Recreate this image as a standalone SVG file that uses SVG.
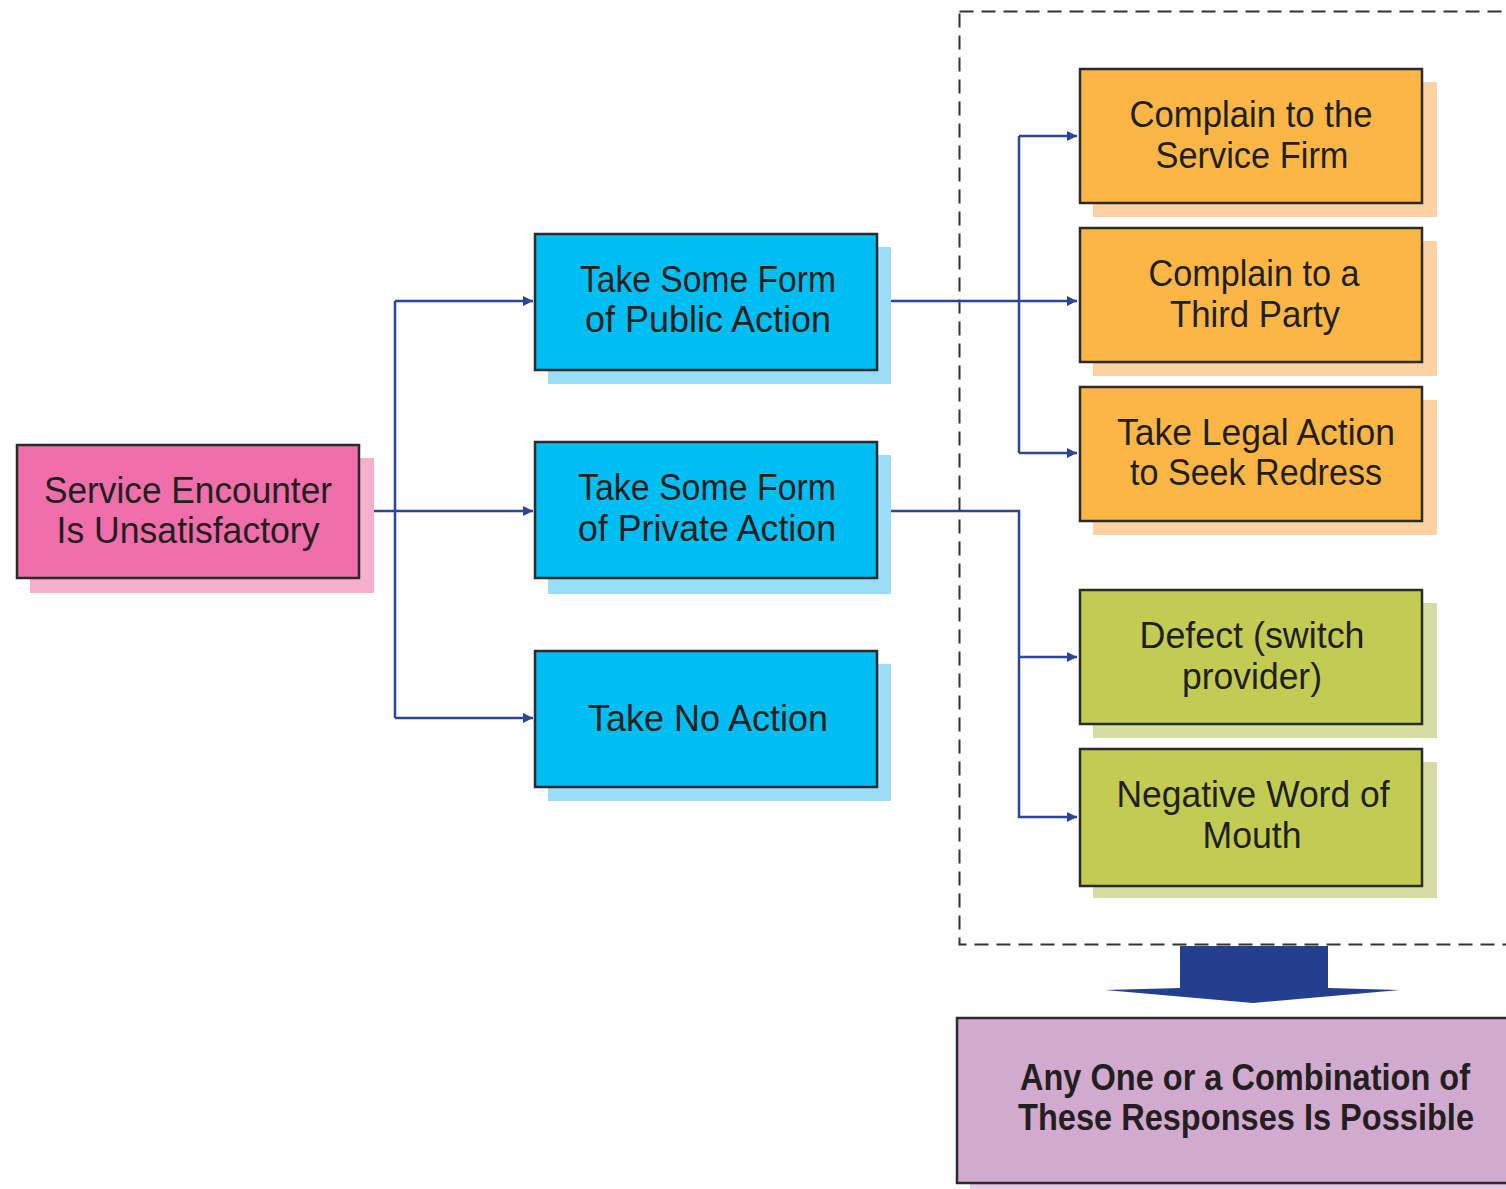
<svg xmlns="http://www.w3.org/2000/svg" width="1506" height="1189" viewBox="0 0 1506 1189">
<defs>
<style>
text{font-family:"Liberation Sans",Arial,sans-serif;font-size:36px;fill:#231f20;text-anchor:middle}
.b{stroke:#2b2b2b;stroke-width:2.5}
.pink{fill:#f06ea9}.pinks{fill:#f7afcc}
.blue{fill:#00bdf2}.blues{fill:#9bdcf8}
.or{fill:#fbb646}.ors{fill:#fdd1a2}
.gr{fill:#c2cb52}.grs{fill:#d6dca3}
.pu{fill:#d3aacf}.pus{fill:#e3c9e1}
.c{fill:none;stroke:#2e4495;stroke-width:2.5}
.bold{font-weight:bold}
</style>
<marker id="ah" viewBox="0 0 10 10" refX="10" refY="5" markerWidth="4" markerHeight="4" orient="auto" markerUnits="strokeWidth">
<path d="M0,0 L10,5 L0,10 z" fill="#2e4495"/>
</marker>
</defs>
<rect width="1506" height="1189" fill="#ffffff"/>

<g id="group-box">
<rect x="959.5" y="11.5" width="560" height="933" fill="none" stroke="#333" stroke-width="2" stroke-dasharray="14 8"/>
</g>

<g id="connectors">
<path class="c" d="M372,511 H533" marker-end="url(#ah)"/>
<path class="c" d="M395,301 V718"/>
<path class="c" d="M395,301 H533" marker-end="url(#ah)"/>
<path class="c" d="M395,718 H533" marker-end="url(#ah)"/>
<path class="c" d="M890,301 H1077" marker-end="url(#ah)"/>
<path class="c" d="M1019,136 V453"/>
<path class="c" d="M1019,136 H1077" marker-end="url(#ah)"/>
<path class="c" d="M1019,453 H1077" marker-end="url(#ah)"/>
<path class="c" d="M890,511 H1019 V817 H1077" marker-end="url(#ah)"/>
<path class="c" d="M1019,657 H1077" marker-end="url(#ah)"/>
</g>

<g id="n-service">
<rect class="pinks" x="30" y="458" width="344" height="135"/>
<rect class="pink b" x="17" y="445" width="342" height="133"/>
<text x="188" y="503" textLength="288" lengthAdjust="spacingAndGlyphs">Service Encounter</text>
<text x="188" y="543" textLength="263" lengthAdjust="spacingAndGlyphs">Is Unsatisfactory</text>
</g>

<g id="n-public">
<rect class="blues" x="548" y="247" width="343" height="137"/>
<rect class="blue b" x="535" y="234" width="342" height="136"/>
<text x="708" y="292" textLength="256" lengthAdjust="spacingAndGlyphs">Take Some Form</text>
<text x="708" y="332" textLength="246" lengthAdjust="spacingAndGlyphs">of Public Action</text>
</g>

<g id="n-private">
<rect class="blues" x="548" y="455" width="343" height="139"/>
<rect class="blue b" x="535" y="442" width="342" height="136"/>
<text x="707" y="500" textLength="258" lengthAdjust="spacingAndGlyphs">Take Some Form</text>
<text x="707" y="541" textLength="258" lengthAdjust="spacingAndGlyphs">of Private Action</text>
</g>

<g id="n-noaction">
<rect class="blues" x="548" y="664" width="343" height="137"/>
<rect class="blue b" x="535" y="651" width="342" height="136"/>
<text x="708" y="731" textLength="240" lengthAdjust="spacingAndGlyphs">Take No Action</text>
</g>

<g id="n-complain-firm">
<rect class="ors" x="1093" y="82" width="344" height="135"/>
<rect class="or b" x="1080" y="69" width="342" height="134"/>
<text x="1251" y="127" textLength="243" lengthAdjust="spacingAndGlyphs">Complain to the</text>
<text x="1252" y="168" textLength="193" lengthAdjust="spacingAndGlyphs">Service Firm</text>
</g>

<g id="n-complain-third">
<rect class="ors" x="1093" y="241" width="344" height="135"/>
<rect class="or b" x="1080" y="228" width="342" height="134"/>
<text x="1254" y="286" textLength="211" lengthAdjust="spacingAndGlyphs">Complain to a</text>
<text x="1255" y="327" textLength="170" lengthAdjust="spacingAndGlyphs">Third Party</text>
</g>

<g id="n-legal">
<rect class="ors" x="1093" y="400" width="344" height="135"/>
<rect class="or b" x="1080" y="387" width="342" height="134"/>
<text x="1256" y="445" textLength="278" lengthAdjust="spacingAndGlyphs">Take Legal Action</text>
<text x="1256" y="485" textLength="252" lengthAdjust="spacingAndGlyphs">to Seek Redress</text>
</g>

<g id="n-defect">
<rect class="grs" x="1093" y="603" width="344" height="135"/>
<rect class="gr b" x="1080" y="590" width="342" height="134"/>
<text x="1252" y="648" textLength="225" lengthAdjust="spacingAndGlyphs">Defect (switch</text>
<text x="1252" y="689" textLength="140" lengthAdjust="spacingAndGlyphs">provider)</text>
</g>

<g id="n-wom">
<rect class="grs" x="1093" y="762" width="344" height="136"/>
<rect class="gr b" x="1080" y="749" width="342" height="137"/>
<text x="1253" y="807" textLength="273" lengthAdjust="spacingAndGlyphs">Negative Word of</text>
<text x="1252" y="848" textLength="99" lengthAdjust="spacingAndGlyphs">Mouth</text>
</g>

<g id="big-arrow">
<path d="M1180,946 H1328 V988 L1400,990 L1253,1003 L1105,990 L1180,988 Z" fill="#233f8d"/>
</g>

<g id="n-result">
<rect class="pus" x="970" y="1031" width="540" height="160"/>
<rect class="pu b" x="957" y="1018" width="560" height="165"/>
<text class="bold" x="1245" y="1090" textLength="450" lengthAdjust="spacingAndGlyphs">Any One or a Combination of</text>
<text class="bold" x="1246" y="1130" textLength="456" lengthAdjust="spacingAndGlyphs">These Responses Is Possible</text>
</g>
</svg>
